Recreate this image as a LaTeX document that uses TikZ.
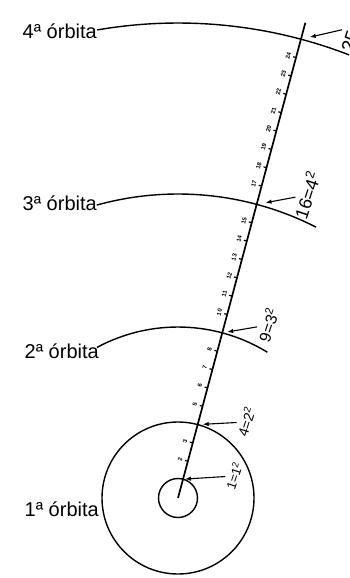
\documentclass[tikz,border=0pt]{standalone}
\usepackage{fontspec}
\setmainfont{Liberation Sans}
\usetikzlibrary{arrows.meta,calc}

\begin{document}
\begin{tikzpicture}[
  x=1pt, y=1pt,
  >={Latex[length=6pt,width=4.5pt]},
  orbit/.style={line width=1.4pt},
  axis/.style={line width=1.7pt},
  tick/.style={line width=1.2pt},
  orbitname/.style={anchor=base east, inner sep=0pt, font=\fontsize{20}{20}\selectfont},
  square/.style={rotate=72, inner sep=2.5pt},
  ticknum/.style={rotate=75, inner sep=0pt, font=\fontsize{6}{6}\selectfont\bfseries},
  pointer/.style={->, line width=1.1pt, shorten >=5pt}
]
\useasboundingbox (0,0) rectangle (349,-578);
\clip (0,0) rectangle (349,-578);

\def\u{19}
\coordinate (c) at (178,-498);

% orbits around the centre
\draw[orbit] (c) circle[radius=19.5];
\draw[orbit] (c) circle[radius=4*\u];
\draw[orbit] ($(c)+(118.3:9*\u)$) arc[start angle=118.3, end angle=58.5, radius=9*\u];
\draw[orbit] ($(c)+(105.5:16*\u)$) arc[start angle=105.5, end angle=63, radius=16*\u];
\draw[orbit] ($(c)+(99.8:25*\u)$) arc[start angle=99.8, end angle=66, radius=25*\u];

% scale
\draw[axis] (c) -- ++(75:492);
\foreach \k in {2,3,5,6,7,8,10,11,12,13,14,15,17,18,19,20,21,22,23,24}{
  \draw[tick] ($(c)+(75:\k*\u)$) -- ++(165:3);
  \node[ticknum] (t\k) at ($(c)+(75:\k*\u)+(165:8)$) {\k};
}

% crossings
\coordinate (x1) at ($(c)+(75:19.5)$);
\coordinate (x4) at ($(c)+(75:4*\u)$);
\coordinate (x9) at ($(c)+(75:9*\u)$);
\coordinate (x16) at ($(c)+(75:16*\u)$);
\coordinate (x25) at ($(c)+(75:25*\u)$);

% orbit names
\node[orbitname] (o4) at (97,-38) {4ª órbita};
\node[orbitname] (o3) at (97,-210) {3ª órbita};
\node[orbitname] (o2) at (99,-358) {2ª órbita};
\node[orbitname] (o1) at (99,-516) {1ª órbita};

% squares
\node[square, font=\fontsize{13}{13}\selectfont] (s1) at (234,-476) {1=1\textsuperscript{2}};
\node[square, font=\fontsize{14}{14}\selectfont] (s4) at (246,-422) {4=2\textsuperscript{2}};
\node[square, font=\fontsize{16}{16}\selectfont] (s9) at (268,-325) {9=3\textsuperscript{2}};
\node[square, font=\fontsize{18}{18}\selectfont] (s16) at (307,-195) {16=4\textsuperscript{2}};
\node[square, font=\fontsize{19}{19}\selectfont] (s25) at (354,-27) {25=5\textsuperscript{2}};

\draw[pointer, shorten >=2pt] (s1) -- (x1);
\draw[pointer] (s4) -- (x4);
\draw[pointer] (s9) -- (x9);
\draw[pointer, shorten >=9pt] (s16) -- (x16);
\draw[pointer, shorten >=9pt] (s25) -- (x25);

\end{tikzpicture}
\end{document}
